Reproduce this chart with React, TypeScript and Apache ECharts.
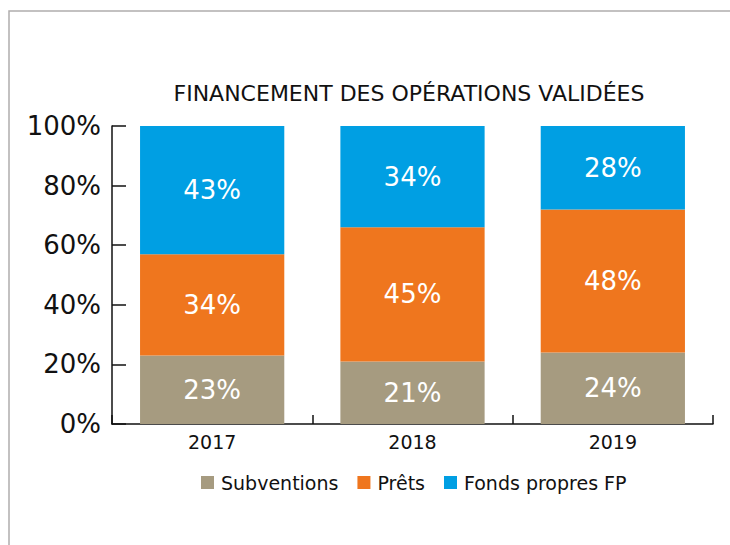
import React, { useEffect, useRef } from "react";
import * as echarts from "echarts";

const categories = ["2017", "2018", "2019"];
const subventions = [23, 21, 24];
const prets = [34, 45, 48];
const fondsPropres = [43, 34, 28];
const seriesNames = ["Subventions", "Prêts", "Fonds propres FP"];
const colors = ["#a69b80", "#ef761e", "#009fe3"];
const titleText = "FINANCEMENT DES OPÉRATIONS VALIDÉES";

const FONT = "'DejaVu Sans', sans-serif";

export default function App() {
  const ref = useRef<HTMLDivElement>(null);
  useEffect(() => {
    if (!ref.current) return;
    const chart = echarts.init(ref.current, undefined, { renderer: "svg" });
    const values = [subventions, prets, fondsPropres];
    chart.setOption({
      animation: false,
      backgroundColor: "#ffffff",
      title: {
        text: titleText,
        left: 404,
        textAlign: "center",
        top: 77,
        textStyle: { fontFamily: FONT, fontSize: 22, fontWeight: "normal", color: "#111" },
      },
      graphic: [
        {
          type: "rect",
          shape: { x: 9, y: 11, width: 900, height: 700 },
          style: { fill: "none", stroke: "#b0adad", lineWidth: 1.5 },
          silent: true,
        },
      ],
      legend: {
        data: seriesNames,
        top: 468,
        left: 196,
        itemWidth: 13,
        itemHeight: 13,
        itemGap: 19,
        icon: "rect",
        textStyle: { fontFamily: FONT, fontSize: 19, fontWeight: "normal", color: "#111", padding: [0, 0, 0, 2] },
      },
      grid: { left: 112, right: 17, top: 126, bottom: 121 },
      xAxis: {
        type: "category",
        data: categories,
        axisLine: { lineStyle: { color: "#111", width: 1.5 } },
        axisTick: { show: true, inside: true, length: 9, alignWithLabel: false, lineStyle: { color: "#111", width: 1.5 } },
        axisLabel: { fontFamily: FONT, fontSize: 19, fontWeight: "normal", color: "#111", margin: 8 },
      },
      yAxis: {
        type: "value",
        min: 0,
        max: 100,
        interval: 20,
        splitLine: { show: false },
        axisLine: { show: true, lineStyle: { color: "#111", width: 1.5 } },
        axisTick: { show: true, inside: true, length: 14, lineStyle: { color: "#111", width: 1.5 } },
        axisLabel: {
          formatter: "{value}%",
          fontFamily: FONT,
          fontSize: 26,
          fontWeight: "normal",
          color: "#111",
          margin: 11,
        },
      },
      series: seriesNames.map((name, i) => ({
        name,
        type: "bar",
        stack: "total",
        barWidth: "72%",
        data: values[i],
        itemStyle: { color: colors[i] },
        label: {
          show: true,
          position: "inside",
          formatter: "{c}%",
          fontFamily: FONT,
          fontSize: 26,
          fontWeight: "normal",
          color: "#ffffff",
        },
      })),
    });
    return () => chart.dispose();
  }, []);
  return (
    <div
      ref={ref}
      style={{ position: "fixed", left: 0, top: 0, width: 730, height: 545 }}
    />
  );
}
